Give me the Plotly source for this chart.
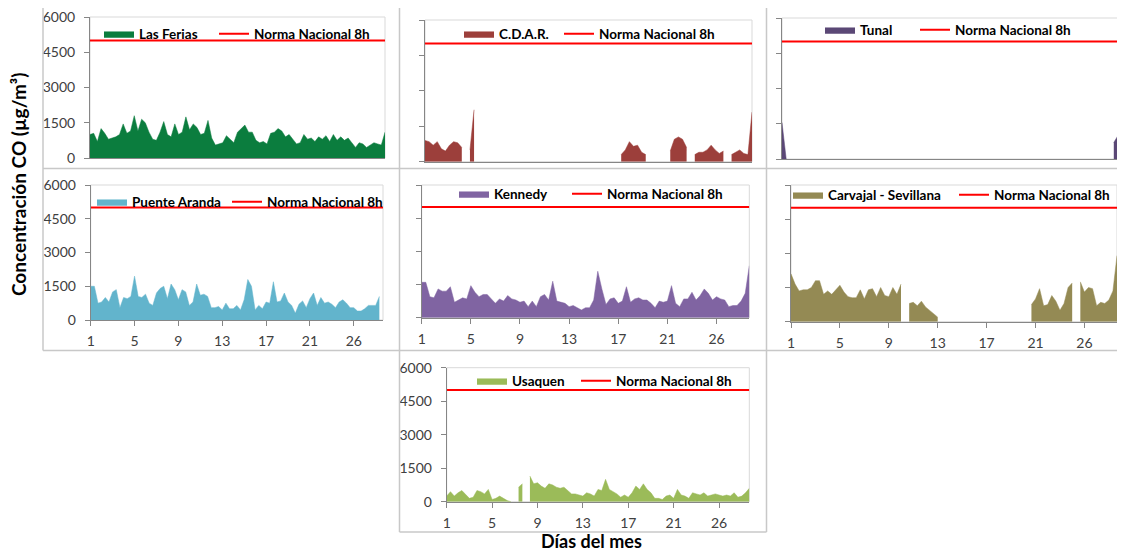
import plotly.graph_objects as go

# ---------------- data ----------------
STEP_DAYS = 1 / 3          # one value every 8 hours
TICK_POS = [0, 4, 8, 12, 16, 20, 24]
TICK_TEXT = ["1", "5", "9", "13", "17", "21", "26"]
Y_TICKS = [0, 1500, 3000, 4500, 6000]
NORMA_8H = 5000
NORMA_NAME = "Norma Nacional 8h"

LAS_FERIAS = [1000, 1050, 700, 1250, 1050, 800, 850, 900, 1000, 1450,
              1050, 1150, 1800, 1150, 1650, 1500, 1100, 800, 750, 1100,
              1550, 1000, 900, 1450, 1000, 1100, 1750, 1200, 1450, 1300,
              1000, 1050, 1600, 850, 550, 600, 650, 950, 800, 650,
              1100, 1250, 1400, 1100, 1100, 750, 650, 700, 600, 1050,
              1100, 1250, 1150, 900, 1000, 800, 600, 650, 1000, 800,
              850, 700, 900, 800, 950, 700, 1000, 750, 900, 750,
              850, 650, 450, 650, 600, 450, 550, 650, 600, 550,
              1100]

CDAR = [900, 850, 700, 850, 550, 450, 700, 850, 800, 600,
        None, 500, 2200, None, None, None, None, None, None, None,
        None, None, None, None, None, None, None, None, None, None,
        None, None, None, None, None, None, None, None, None, None,
        None, None, None, None, None, None, None, None, 300, 500,
        850, 650, 700, 400, 300, None, None, None, None, None,
        450, 950, 1050, 950, 600, None, 300, 400, 400, 500,
        700, 500, 350, 450, None, 300, 400, 500, 350, 300,
        2100]

TUNAL = [1550, 0, None, None, None, None, None, None, None, None,
         None, None, None, None, None, None, None, None, None, None,
         None, None, None, None, None, None, None, None, None, None,
         None, None, None, None, None, None, None, None, None, None,
         None, None, None, None, None, None, None, None, None, None,
         None, None, None, None, None, None, None, None, None, None,
         None, None, None, None, None, None, None, None, None, None,
         None, None, None, None, None, None, None, None, None, 700,
         1000]

PUENTE_ARANDA = [1500, 1500, 750, 800, 1000, 800, 1250, 1350, 550, 1000,
                 950, 1050, 1950, 1050, 1000, 1150, 750, 650, 1200, 1400,
                 1500, 950, 1600, 1350, 900, 1350, 1250, 650, 800, 1600,
                 1100, 1150, 1050, 550, 550, 600, 450, 750, 500, 500,
                 650, 450, 900, 1800, 1500, 450, 650, 500, 800, 750,
                 1700, 800, 850, 1200, 800, 650, 300, 700, 850, 550,
                 950, 1200, 650, 1000, 750, 800, 700, 550, 800, 900,
                 750, 550, 550, 400, 400, 500, 650, 650, 650, 1050,
                 None]

KENNEDY = [1600, 1600, 950, 900, 1300, 1200, 1200, 1400, 700, 800,
           900, 850, 1450, 1150, 950, 1050, 1050, 850, 650, 850,
           750, 1000, 850, 800, 700, 750, 500, 750, 500, 950,
           1050, 800, 1650, 750, 700, 650, 500, 550, 450, 350,
           450, 450, 800, 2100, 1300, 600, 850, 900, 650, 750,
           1400, 700, 850, 900, 800, 800, 650, 450, 750, 700,
           750, 1450, 650, 500, 850, 850, 1150, 800, 1000, 1300,
           1100, 800, 950, 850, 800, 500, 550, 550, 750, 1100,
           2350]

CARVAJAL = [2100, 1650, 1350, 1400, 1400, 1500, 1800, 1800, 1200, 1350,
            1200, 1400, 1600, 1300, 1100, 1050, 1050, 1400, 1000, 1400,
            1450, 1100, 1500, 1150, 1100, 1500, 1200, 1650, None, 800,
            850, 700, 900, 650, 500, 350, 200, None, None, None,
            None, None, None, None, None, None, None, None, None, None,
            None, None, None, None, None, None, None, None, None, 750,
            1000, 1450, 700, 750, 1150, 900, 500, 800, 1500, 1700,
            None, 1750, 1300, 1500, 1450, 700, 850, 800, 950, 1350,
            2900]

USAQUEN = [250, 450, 250, 400, 500, 300, 150, 200, 500, 450,
           350, 550, 100, 150, 250, 150, 50, 0, None, 650,
           800, None, 1150, 800, 850, 700, 600, 800, 750, 650,
           600, 650, 500, 350, 350, 300, 250, 400, 350, 250,
           550, 500, 1000, 550, 450, 350, 200, 300, 200, 400,
           700, 550, 800, 550, 400, 150, 150, 100, 250, 300,
           150, 550, 300, 250, 150, 400, 350, 300, 400, 250,
           300, 350, 300, 250, 300, 250, 400, 200, 250, 400,
           600]

STATIONS = ["Las Ferias", "C.D.A.R.", "Tunal", "Puente Aranda",
            "Kennedy", "Carvajal - Sevillana", "Usaquen"]
SERIES = [LAS_FERIAS, CDAR, TUNAL, PUENTE_ARANDA, KENNEDY, CARVAJAL, USAQUEN]

# ---------------- styling / layout ----------------
W, H = 1125, 554          # browser window
OFF = 8                   # page body margin the figure is placed at
FW, FH = W - OFF, H - OFF  # figure size so it fits the window exactly
FONT = "Lato"


def px(x):
    return (x - OFF) / FW


def py(y):
    return 1 - (y - OFF) / FH


COLORS = ["#0b7d3e", "#9c3f3b", "#5b4876", "#62b4cc",
          "#8064a2", "#948a54", "#9bbb59"]
# plot areas in window pixels: (left, right, top, bottom)
BOXES = [(90, 385, 17, 158), (425, 752, 20, 161.7), (782, 1118, 18, 159),
         (90.7, 383, 185, 320), (421.7, 749.3, 185, 317.7), (791, 1117, 185, 321.7),
         (446.7, 749.3, 367.7, 501.7)]
YLABELS = [True, False, False, True, False, False, True]
XLABELS = [False, False, False, True, True, True, True]
# legend: (x of station swatch, x of norm swatch, y centre)
LEGENDS = [(105, 220, 34), (465, 565, 34), (826, 921, 30),
           (98, 233, 202), (460, 573, 194), (794, 960, 195),
           (478, 582, 381)]


def segments(xs, vals):
    """Split a series into its contiguous runs of measured values."""
    runs, cur = [], []
    for x, v in zip(xs, vals):
        if v is None:
            if cur:
                runs.append(cur)
            cur = []
        else:
            cur.append((x, v))
    if cur:
        runs.append(cur)
    return runs


fig = go.Figure()
layout = {}
shapes = []

for k, (name, vals, col) in enumerate(zip(STATIONS, SERIES, COLORS)):
    n = k + 1
    sx = "" if n == 1 else str(n)
    xs = [i * STEP_DAYS for i in range(len(vals))]
    leg_a = "legend" if k == 0 else f"legend{2 * k + 1}"
    leg_b = f"legend{2 * k + 2}"
    for j, run in enumerate(segments(xs, vals)):
        fig.add_trace(go.Scatter(
            x=[p[0] for p in run], y=[p[1] for p in run], mode="lines",
            fill="tozeroy", name=name, showlegend=(j == 0),
            line=dict(color=col, width=0.5), fillcolor=col,
            xaxis="x" + sx, yaxis="y" + sx, legend=leg_a, hoverinfo="skip"))
    fig.add_trace(go.Scatter(
        x=[xs[0], xs[-1]], y=[NORMA_8H, NORMA_8H], mode="lines", name=NORMA_NAME,
        line=dict(color="#ff0000", width=2),
        xaxis="x" + sx, yaxis="y" + sx, legend=leg_b, hoverinfo="skip"))

    l, r, t, b = BOXES[k]
    xmax = (len(vals) - 1) * STEP_DAYS
    layout["xaxis" + sx] = dict(
        domain=[px(l), px(r)], anchor="y" + sx, range=[0, xmax],
        showgrid=False, zeroline=False, showline=True, linecolor="#868686",
        linewidth=1, tickvals=TICK_POS, ticktext=TICK_TEXT,
        ticks="outside" if XLABELS[k] else "", ticklen=5, tickcolor="#868686",
        showticklabels=XLABELS[k], ticklabelstandoff=3,
        ticklabeloverflow="allow",
        tickfont=dict(family=FONT, size=14, color="#404040"))
    layout["yaxis" + sx] = dict(
        domain=[py(b), py(t)], anchor="x" + sx, range=[0, 6000],
        showgrid=False, zeroline=False, showline=True, linecolor="#868686",
        linewidth=1, tickvals=Y_TICKS, ticks="outside", ticklen=5,
        tickcolor="#868686", showticklabels=YLABELS[k], ticklabelstandoff=6,
        ticklabeloverflow="allow",
        tickfont=dict(family=FONT, size=14, color="#404040"))
    shapes.append(dict(type="rect", xref=f"x{sx} domain", yref=f"y{sx} domain",
                       x0=0, x1=1, y0=0, y1=1, layer="below",
                       line=dict(color="#d9d9d9", width=1)))
    ax, bx, ly = LEGENDS[k]
    for leg, lx in ((leg_a, ax), (leg_b, bx)):
        layout[leg] = dict(
            orientation="h", x=px(lx - 6), y=py(ly), xanchor="left",
            yanchor="middle", bgcolor="rgba(0,0,0,0)", borderwidth=0,
            font=dict(family=FONT, size=13.5, color="black", weight="bold"),
            itemwidth=30, itemclick=False, itemdoubleclick=False)

# chart-panel borders
BORDER = "#c8c8c8"
for (x0, y0, x1, y1) in [(43, 5.5, 1125, 5.5), (43, 168.5, 1125, 168.5),
                         (43, 350.5, 1125, 350.5), (43, 5.5, 43, 350.5),
                         (399.5, 5.5, 399.5, 532), (766.5, 5.5, 766.5, 532),
                         (399.5, 532, 766.5, 532)]:
    shapes.append(dict(type="line", xref="paper", yref="paper",
                       x0=px(x0), x1=px(x1), y0=py(y0), y1=py(y1),
                       line=dict(color=BORDER, width=1.5)))

annotations = [
    dict(text="<b>Concentración CO (µg/m³)</b>", xref="paper", yref="paper",
         x=px(19), y=py(185), textangle=-90, showarrow=False,
         font=dict(family=FONT, size=19, color="black"),
         xanchor="center", yanchor="middle"),
    dict(text="<b>Días del mes</b>", xref="paper", yref="paper",
         x=px(591), y=py(554), showarrow=False,
         font=dict(family=FONT, size=18, color="black"),
         xanchor="center", yanchor="bottom"),
]

fig.update_layout(width=FW, height=FH,
                  margin=dict(l=0, r=0, t=0, b=0, autoexpand=False),
                  plot_bgcolor="white", paper_bgcolor="white",
                  shapes=shapes, annotations=annotations, **layout)
fig.write_html("out.html")
